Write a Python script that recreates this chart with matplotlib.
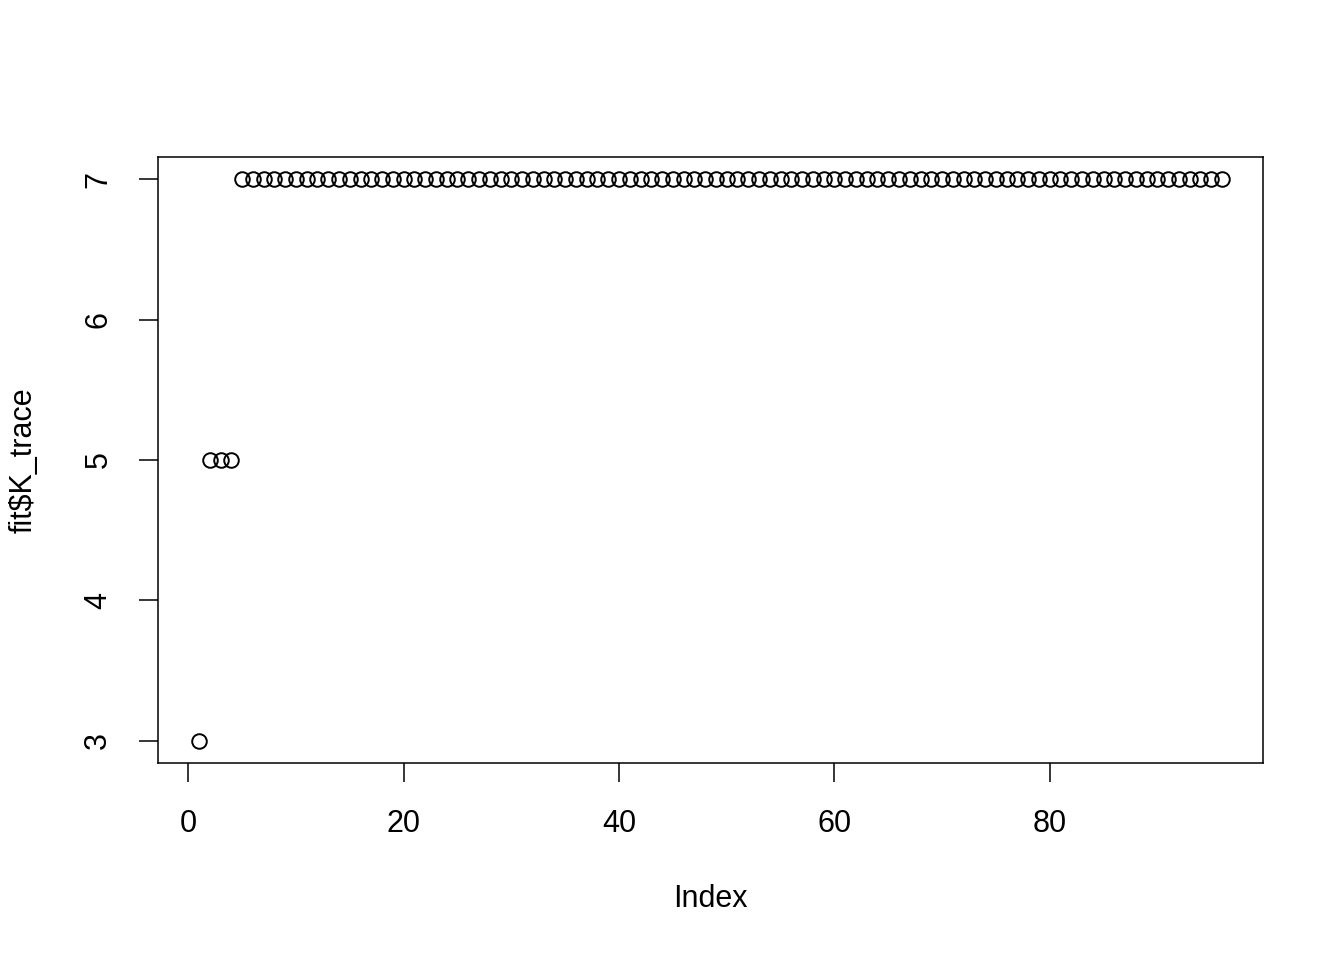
import matplotlib
matplotlib.use("Agg")
import matplotlib.pyplot as plt

plt.rcParams['font.family'] = ['Liberation Sans', 'DejaVu Sans']

# values of fit$K_trace, one per iteration
k_trace = [3, 5, 5, 5,
           7, 7, 7, 7, 7, 7, 7, 7, 7, 7, 7, 7, 7, 7, 7, 7, 7, 7, 7, 7,
           7, 7, 7, 7, 7, 7, 7, 7, 7, 7, 7, 7, 7, 7, 7, 7, 7, 7, 7, 7,
           7, 7, 7, 7, 7, 7, 7, 7, 7, 7, 7, 7, 7, 7, 7, 7, 7, 7, 7, 7,
           7, 7, 7, 7, 7, 7, 7, 7, 7, 7, 7, 7, 7, 7, 7, 7, 7, 7, 7, 7,
           7, 7, 7, 7, 7, 7, 7, 7, 7, 7, 7, 7]
index = list(range(1, len(k_trace) + 1))

xticks = [0, 20, 40, 60, 80]
yticks = [3, 4, 5, 6, 7]

fig = plt.figure(figsize=(13.44, 9.6), dpi=100)
ax = fig.add_axes([0.1176, 0.2052, 0.9397 - 0.1176, 0.8365 - 0.2052])

ax.plot(index, k_trace, 'o', mfc='none', mec='black', ms=10.5, mew=1.4)

# R style 4% padding
n = len(index)
dx = (n - 1) * 0.04
ax.set_xlim(1 - dx, n + dx)
ax.set_ylim(3 - 4 * 0.04, 7 + 4 * 0.04)

ax.set_xticks(xticks)
ax.set_yticks(yticks)
ax.tick_params(direction='out', length=13.7, width=1.1, labelsize=22)
ax.tick_params(axis='x', pad=19.5)
ax.tick_params(axis='y', pad=18.5)
for lab in ax.get_yticklabels():
    lab.set_rotation(90)
    lab.set_va('center')
for sp in ax.spines.values():
    sp.set_linewidth(1.1)

ax.set_xlabel('Index', fontsize=22, labelpad=32)
ax.set_ylabel('fit\\$K_trace', fontsize=22, labelpad=32)

fig.savefig('out.png', dpi=100)
